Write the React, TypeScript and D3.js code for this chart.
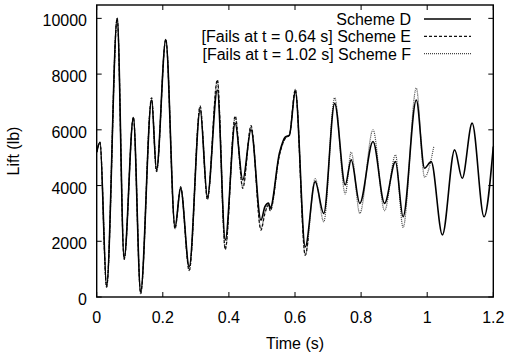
import { useRef, useEffect } from 'react';
import * as d3 from 'd3';

// Scheme D (full run)
const TIME_D = [
  0.0, 0.01, 0.03, 0.062, 0.083, 0.111, 0.133, 0.166, 0.181, 0.209, 0.237, 0.254, 0.28, 0.313,
  0.335, 0.365, 0.389, 0.419, 0.442, 0.467, 0.497, 0.509, 0.52, 0.525, 0.553, 0.571, 0.583,
  0.601, 0.631, 0.661, 0.687, 0.72, 0.752, 0.77, 0.796, 0.836, 0.871, 0.904, 0.927, 0.967,
  0.992, 1.012, 1.046, 1.083, 1.106, 1.136, 1.172, 1.2,
];
const LIFT_D = [
  5200, 5550, 400, 10000, 1400, 6430, 190, 7070, 4560, 9230, 2520, 3900, 1090, 6710,
  3600, 7430, 2050, 6240, 4200, 6000, 2760, 3240, 3370, 3190, 5170, 5750, 5810,
  7370, 1800, 4140, 3000, 6950, 4020, 4920, 3360, 5580, 3360, 4860, 2880, 7070,
  4620, 4860, 2230, 5280, 4260, 6240, 2880, 5400,
];

// Scheme E (fails at t = 0.64 s)
const TIME_E = [
  0.0, 0.01, 0.03, 0.062, 0.083, 0.111, 0.133, 0.166, 0.181, 0.209, 0.237, 0.254, 0.28, 0.313,
  0.335, 0.365, 0.389, 0.419, 0.442, 0.467, 0.497, 0.509, 0.52, 0.525, 0.553, 0.571, 0.583,
  0.601, 0.631, 0.64,
];
const LIFT_E = [
  5200, 5550, 350, 10000, 1350, 6450, 120, 7150, 4500, 9250, 2450, 3950, 950, 6850,
  3500, 7800, 1700, 6500, 3900, 6150, 2400, 3000, 3300, 3100, 5100, 5700, 5800,
  7450, 1500, 2100,
];

// Scheme F (fails at t = 1.02 s)
const TIME_F = [
  0.0, 0.01, 0.03, 0.062, 0.083, 0.111, 0.133, 0.166, 0.181, 0.209, 0.237, 0.254, 0.28, 0.313,
  0.335, 0.365, 0.389, 0.419, 0.442, 0.467, 0.497, 0.509, 0.52, 0.525, 0.553, 0.571, 0.583,
  0.601, 0.631, 0.661, 0.687, 0.72, 0.752, 0.77, 0.796, 0.836, 0.871, 0.904, 0.927, 0.967,
  0.992, 1.02,
];
const LIFT_F = [
  5200, 5550, 350, 10000, 1350, 6450, 120, 7150, 4500, 9250, 2450, 3950, 950, 6850,
  3500, 7750, 1750, 6450, 3950, 6100, 2450, 3050, 3300, 3100, 5100, 5700, 5800,
  7450, 1500, 4250, 2700, 7150, 3700, 5200, 3000, 6000, 3100, 5100, 2500, 7500,
  4300, 5400,
];

const X_TICKS = [0, 0.2, 0.4, 0.6, 0.8, 1, 1.2];
const Y_TICKS = [0, 2000, 4000, 6000, 8000, 10000];

const LEGEND = [
  { label: 'Scheme D', dash: null, color: '#000' },
  { label: '[Fails at t = 0.64 s] Scheme E', dash: '3,2', color: '#111' },
  { label: '[Fails at t = 1.02 s] Scheme F', dash: '1,1', color: '#444' },
];

const W = 505;
const H = 356;
const FONT = '"Liberation Sans", Arial, sans-serif';

export default function App() {
  const svgRef = useRef<SVGSVGElement>(null);

  useEffect(() => {
    document.body.style.margin = '0';
    if (!svgRef.current) return;
    const svg = d3.select(svgRef.current);
    svg.selectAll('*').remove();

    const m = { left: 96.7, right: 11.7, top: 5, bottom: 59 };
    const x = d3.scaleLinear().domain([0, 1.2]).range([m.left, W - m.right]);
    const y = d3.scaleLinear().domain([0, 10480]).range([H - m.bottom, m.top]);

    const line = d3
      .line<[number, number]>()
      .x((d) => x(d[0]))
      .y((d) => y(d[1]))
      .curve(d3.curveMonotoneX);

    const g = svg.append('g');

    const series = [
      { t: TIME_F, v: LIFT_F, ...LEGEND[2], width: 1.2 },
      { t: TIME_E, v: LIFT_E, ...LEGEND[1], width: 1.2 },
      { t: TIME_D, v: LIFT_D, ...LEGEND[0], width: 1.6 },
    ];

    series.forEach((s) => {
      const pts = s.t.map((t, i) => [t, s.v[i]] as [number, number]);
      g.append('path')
        .attr('d', line(pts) || '')
        .attr('fill', 'none')
        .attr('stroke', s.color)
        .attr('stroke-width', s.width)
        .attr('stroke-dasharray', s.dash ?? null);
    });

    // ticks (inward, all four sides)
    const tk = 5;
    const ax = svg.append('g').attr('stroke', '#000').attr('stroke-width', 1);
    X_TICKS.forEach((t) => {
      ax.append('line').attr('x1', x(t)).attr('x2', x(t)).attr('y1', y(0)).attr('y2', y(0) - tk);
      ax.append('line').attr('x1', x(t)).attr('x2', x(t)).attr('y1', m.top).attr('y2', m.top + tk);
    });
    Y_TICKS.forEach((v) => {
      ax.append('line').attr('x1', x(0)).attr('x2', x(0) + tk).attr('y1', y(v)).attr('y2', y(v));
      ax.append('line').attr('x1', x(1.2)).attr('x2', x(1.2) - tk).attr('y1', y(v)).attr('y2', y(v));
    });

    svg.append('rect')
      .attr('x', x(0))
      .attr('y', m.top)
      .attr('width', x(1.2) - x(0))
      .attr('height', y(0) - m.top)
      .attr('fill', 'none')
      .attr('stroke', '#000')
      .attr('stroke-width', 1.4);

    const txt = svg.append('g').attr('font-family', FONT).attr('font-size', 16).attr('fill', '#000');

    X_TICKS.forEach((t) => {
      txt.append('text')
        .attr('x', x(t))
        .attr('y', 323)
        .attr('text-anchor', 'middle')
        .text(d3.format('~g')(t));
    });
    Y_TICKS.forEach((v) => {
      txt.append('text')
        .attr('x', 87)
        .attr('y', y(v) + 8)
        .attr('text-anchor', 'end')
        .text(String(v));
    });

    txt.append('text')
      .attr('x', 295)
      .attr('y', 349)
      .attr('text-anchor', 'middle')
      .text('Time (s)');

    txt.append('text')
      .attr('transform', 'translate(19,151) rotate(-90)')
      .attr('text-anchor', 'middle')
      .text('Lift (lb)');

    // legend
    LEGEND.forEach((d, i) => {
      const ly = 19 + i * 17.3;
      txt.append('text')
        .attr('x', 411)
        .attr('y', ly + 6)
        .attr('text-anchor', 'end')
        .text(d.label);
      svg.append('line')
        .attr('x1', 424)
        .attr('x2', 471)
        .attr('y1', ly)
        .attr('y2', ly)
        .attr('stroke', d.color)
        .attr('stroke-width', d.dash ? 1.2 : 1.4)
        .attr('stroke-dasharray', d.dash);
    });
  }, []);

  return (
    <div style={{ position: 'absolute', left: 0, top: 0 }}>
      <svg ref={svgRef} width={W} height={H} viewBox={`0 0 ${W} ${H}`} style={{ display: 'block', background: '#fff' }} />
    </div>
  );
}
